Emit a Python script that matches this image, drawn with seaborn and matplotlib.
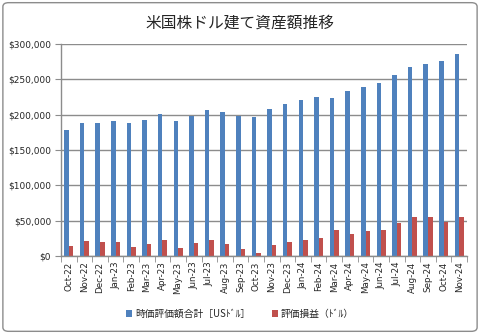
import matplotlib
matplotlib.use("Agg")
import matplotlib.pyplot as plt
from matplotlib.patches import FancyBboxPatch, Patch
from matplotlib.ticker import FuncFormatter, FixedLocator
import pandas as pd
import seaborn as sns

months = ["Oct-22", "Nov-22", "Dec-22", "Jan-23", "Feb-23", "Mar-23", "Apr-23",
          "May-23", "Jun-23", "Jul-23", "Aug-23", "Sep-23", "Oct-23", "Nov-23",
          "Dec-23", "Jan-24", "Feb-24", "Mar-24", "Apr-24", "May-24", "Jun-24",
          "Jul-24", "Aug-24", "Sep-24", "Oct-24", "Nov-24"]
market_value = [178500, 187500, 187500, 191500, 188000, 192500, 201000,
                191000, 198500, 207000, 203500, 198500, 196500, 208500,
                214500, 220500, 224500, 223000, 233000, 239000, 245000,
                256000, 268000, 272000, 275500, 285500]
unrealized_pl = [14200, 21500, 19000, 19000, 12800, 16600, 22700,
                 10500, 18000, 21800, 16600, 9000, 4700, 15200,
                 19000, 22700, 25100, 36000, 31300, 35000, 36000,
                 46000, 55400, 55400, 48300, 55400]
series_names = ["時価評価額合計［USﾄﾞﾙ］", "評価損益（ﾄﾞﾙ）"]
colors = ["#4F81BD", "#C0504D"]
title = "米国株ドル建て資産額推移"

df = pd.DataFrame({
    "month": months * 2,
    "series": [series_names[0]] * len(months) + [series_names[1]] * len(months),
    "value": market_value + unrealized_pl,
})

sns.set_style("white")
plt.rcParams["font.family"] = ["DejaVu Sans", "Noto Sans CJK JP"]
cjk = ["Noto Sans CJK JP", "DejaVu Sans"]
grid_gray = "#8c8c8c"

fig = plt.figure(figsize=(4.8, 3.34), dpi=100)
ax = fig.add_axes([0.127, 0.234, 0.846, 0.634])

sns.barplot(data=df, x="month", y="value", hue="series", palette=colors,
            width=0.58, dodge=True, ax=ax, legend=False, saturation=1,
            linewidth=0)

ax.set_ylim(0, 300000)
ax.set_xlim(-0.5, len(months) - 0.5)
ax.set_yticks(range(0, 300001, 50000))
ax.yaxis.set_major_formatter(FuncFormatter(lambda v, p: f"${v:,.0f}"))
ax.set_xlabel("")
ax.set_ylabel("")
ax.grid(axis="y", color=grid_gray, linewidth=1)
ax.set_axisbelow(True)

for side in ("top", "right"):
    ax.spines[side].set_visible(False)
for side in ("left", "bottom"):
    ax.spines[side].set_color(grid_gray)
    ax.spines[side].set_linewidth(1)

ax.tick_params(axis="y", length=4, color=grid_gray, labelsize=6.5,
               pad=3, left=True)
ax.tick_params(axis="x", which="major", length=0, labelsize=6.3,
               labelrotation=90, pad=4, bottom=True)
ax.xaxis.set_minor_locator(FixedLocator([i - 0.5 for i in range(len(months) + 1)]))
ax.tick_params(axis="x", which="minor", length=4, color=grid_gray, bottom=True)

fig.text(0.5, 0.93, title, ha="center", va="center", fontsize=11.3,
         family=cjk)

handles = [Patch(facecolor=c, edgecolor="none") for c in colors]
fig.legend(handles, series_names, loc="center", bbox_to_anchor=(0.5, 0.06),
           ncol=2, frameon=False, prop={"family": cjk, "size": 7},
           handlelength=0.6, handleheight=0.6, handletextpad=0.3,
           columnspacing=2.2)

frame = FancyBboxPatch((0.006, 0.008), 0.988, 0.984,
                       boxstyle="round,pad=0,rounding_size=0.012",
                       transform=fig.transFigure, facecolor="none",
                       edgecolor="#8c8c8c", linewidth=1)
fig.patches.append(frame)

fig.savefig("out.png", dpi=100, facecolor="white")
